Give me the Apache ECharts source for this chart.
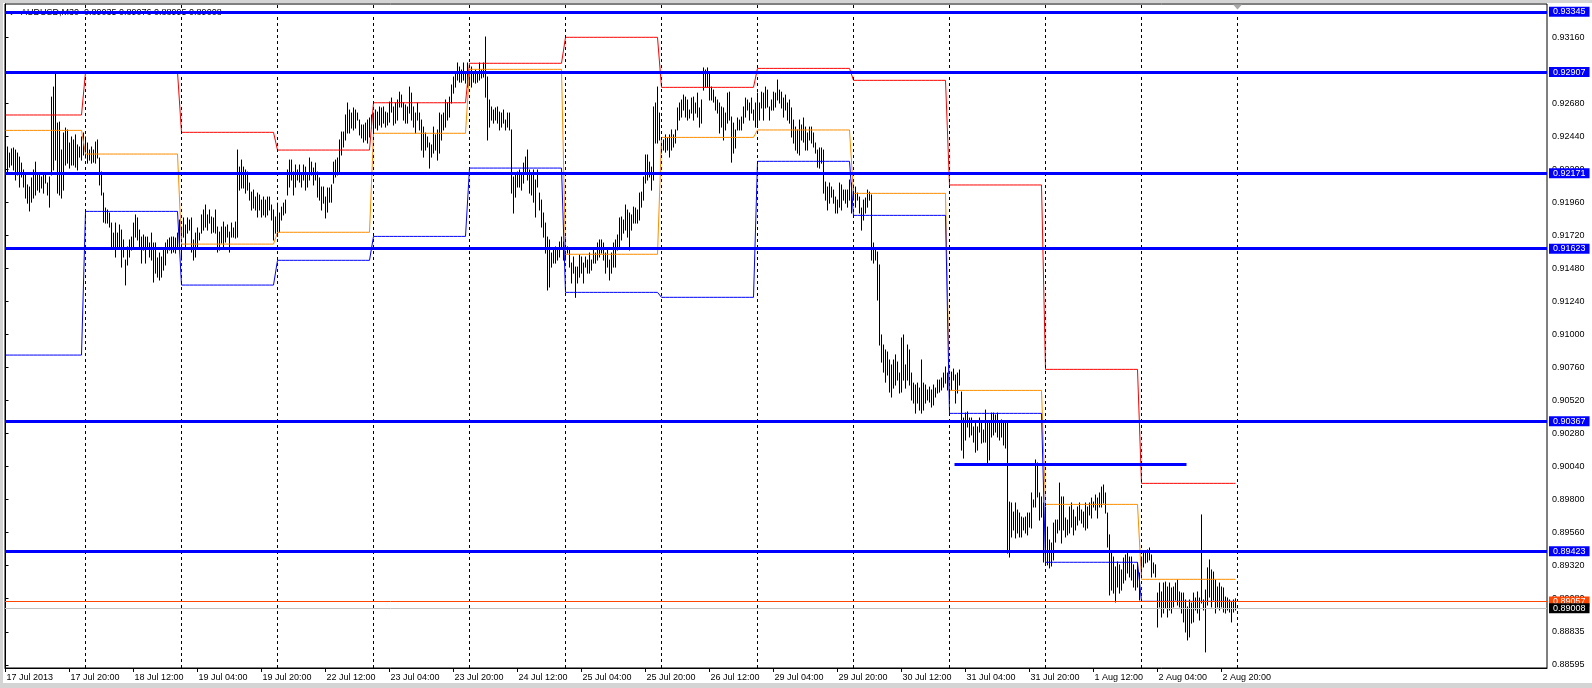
<!DOCTYPE html>
<html><head><meta charset="utf-8">
<script src="https://cdn.jsdelivr.net/npm/echarts@6/dist/echarts.min.js"></script>
<style>
html,body{margin:0;padding:0;background:#d4d4d4;width:1592px;height:688px;overflow:hidden}
#chart{position:absolute;left:3px;top:3px;width:1589px;height:680px;background:#fff}
</style></head><body><div id="chart"></div>
<script>
// ---------- data ----------
const symbolName = 'AUDUSD,M30';
const lastBarOHLC = ['0.89035', '0.89076', '0.88995', '0.89008'];

// M30 bar index of each time label (bar 0 = 17 Jul 04:00)
const timeLabelBars = [0,32,64,96,128,160,192,224,256,288,320,352,384,416,448,480,512,544,576,608];
const timeLabels = ['17 Jul 2013','17 Jul 20:00','18 Jul 12:00','19 Jul 04:00','19 Jul 20:00','22 Jul 12:00',
  '23 Jul 04:00','23 Jul 20:00','24 Jul 12:00','25 Jul 04:00','25 Jul 20:00','26 Jul 12:00','29 Jul 04:00',
  '29 Jul 20:00','30 Jul 12:00','31 Jul 04:00','31 Jul 20:00','1 Aug 12:00','2 Aug 04:00','2 Aug 20:00'];

// trading days (first bar index of each day) and day separators
const dayNames = ['17 Jul','18 Jul','19 Jul','22 Jul','23 Jul','24 Jul','25 Jul','26 Jul','29 Jul','30 Jul','31 Jul','1 Aug','2 Aug'];
const dayFirstBar = [0,40,88,136,184,232,280,328,376,424,472,520,568];
const daySeparatorBars = [40,88,136,184,232,280,328,376,424,472,520,568,616];

// previous-day levels drawn per day (red = high, orange = close, blue = low)
const prevDayHigh  = [0.92595,0.92907,0.92469,0.92340,0.92684,0.92971,0.93160,0.92796,0.92934,0.92847,0.92086,0.90745,0.89916];
const prevDayClose = [0.92483,0.92311,0.91656,0.91742,0.92462,0.92927,0.91582,0.92432,0.92486,0.92025,0.90592,0.89763,0.89218];
const prevDayLow   = [0.90849,0.91894,0.91358,0.91538,0.91712,0.92209,0.91305,0.91269,0.92258,0.91865,0.90425,0.89342,0.89058];

// horizontal levels (thick blue) and a short level line
const levelPrices = [0.93345, 0.92907, 0.92171, 0.91623, 0.90367, 0.89423];
const shortLevel = {price: 0.90056, fromBar: 474.5, toBar: 590.5};
const askPrice = 0.89057;
const bidPrice = 0.89008;

// price-axis tick labels
const priceTicks = [0.93160,0.92680,0.92440,0.92200,0.91960,0.91720,0.91480,0.91240,0.91000,0.90760,0.90520,0.90280,0.90040,0.89800,0.89560,0.89320,0.89080,0.88835,0.88595];

// bar highs / lows in points (1e-5)
const barHigh = [
92413,92362,92318,92348,92355,92340,92318,92289,92245,92195,92173,92086,92071,92137,92195,92252,92159,92159,92144,92159,
92159,92100,92144,92725,92798,92900,92536,92543,92340,92464,92500,92486,92391,92435,92413,92450,92377,92362,92435,92464,
92435,92391,92340,92362,92340,92398,92413,92282,92180,92027,91918,91904,91882,91809,91736,91809,91736,91795,91758,91686,
91540,91635,91686,91707,91809,91868,91846,91758,91707,91722,91707,91707,91664,91736,91664,91664,91555,91591,91562,91613,
91664,91686,91700,91707,91707,91700,91736,91831,
91780,91846,91795,91846,91831,91846,91686,91736,91773,91736,91868,91904,91940,91868,91904,91853,91846,91904,91780,91743,
91780,91816,91780,91795,91743,91809,91773,91816,92340,92216,92267,92216,92195,92180,92100,92034,92049,91998,92027,92013,
91976,91998,91976,91998,91998,91940,91904,91853,
91954,91882,91925,91954,91976,92195,92267,92267,92180,92231,92195,92231,92159,92231,92216,92173,92282,92252,92209,92245,
92180,92137,92071,92071,91998,92064,92064,92086,92252,92267,92282,92413,92471,92471,92595,92682,92631,92609,92646,92631,
92609,92558,92522,92522,92536,92558,92573,92595,
92609,92631,92616,92653,92646,92653,92616,92609,92689,92718,92653,92682,92704,92761,92740,92682,92668,92653,92798,92754,
92653,92609,92682,92609,92558,92507,92464,92435,92391,92377,92507,92450,92486,92609,92595,92609,92704,92682,92725,92813,
92871,92900,92973,92944,92922,92973,92907,92973,
92922,92944,92907,92922,92907,92973,92922,92973,93162,92871,92704,92653,92631,92646,92653,92616,92609,92631,92558,92609,
92609,92486,92144,92173,92180,92195,92173,92245,92289,92340,92195,92173,92195,92122,92195,92027,91976,91882,91809,91707,
91686,91591,91613,91635,91613,91671,91707,91671,
91707,91635,91613,91518,91562,91489,91489,91577,91562,91518,91562,91540,91591,91540,91613,91591,91664,91686,91686,91664,
91591,91613,91540,91591,91664,91686,91722,91846,91853,91831,91940,91904,91882,91868,91925,91918,91904,92027,92034,92144,
92304,92304,92252,92216,92653,92682,92798,92609,
92428,92413,92450,92428,92450,92486,92450,92486,92646,92682,92704,92740,92725,92704,92631,92718,92725,92682,92754,92646,
92704,92937,92922,92937,92900,92798,92776,92725,92704,92682,92653,92646,92609,92754,92761,92580,92536,92486,92573,92558,
92580,92653,92718,92704,92682,92718,92631,92682,
92754,92682,92761,92754,92798,92776,92653,92704,92761,92754,92849,92776,92761,92718,92740,92682,92704,92646,92558,92507,
92486,92558,92522,92573,92507,92464,92507,92507,92464,92391,92340,92355,92355,92340,92107,92071,92100,92071,92049,91998,
91976,92100,92086,92049,92049,92049,92122,92100,
92086,92071,92027,91998,91918,91976,91991,92049,92034,92013,91664,91613,91598,91504,90995,90922,90886,90871,90813,90777,
90813,90850,90798,90718,90973,90995,90777,90922,90886,90718,90645,90631,90645,90609,90813,90645,90631,90595,90616,90595,
90631,90609,90667,90667,90682,90718,90762,90718,
90667,90725,90747,90704,90718,90740,90580,90391,90427,90435,90391,90391,90326,90362,90326,90391,90355,90304,90449,90362,
90355,90427,90427,90413,90427,90355,90377,90362,90362,90355,89780,89773,89707,89773,89722,89700,89671,89664,89671,89700,
89700,89846,89795,90086,90064,89846,89817,89773,
89744,89598,89504,89482,89627,89649,89649,89918,89817,89817,89664,89649,89744,89773,89722,89671,89744,89773,89722,89707,
89773,89744,89773,89809,89780,89831,89809,89846,89889,89904,89846,89700,89541,89409,89380,89308,89344,89323,89286,89373,
89395,89409,89380,89380,89323,89286,89337,89264,
89380,89409,89417,89431,89446,89395,89337,89323,89118,89191,89126,89191,89198,89162,89191,89155,89162,89191,89213,89126,
89118,89118,89068,89017,89068,89046,89118,89082,89126,89082,89686,89068,89140,89301,89359,89286,89271,89213,89162,89191,
89162,89155,89089,89082,89068,89053,89068,89076];
const barLow = [
92245,92180,92216,92231,92195,92122,92159,92071,92144,92071,91991,91954,91897,91961,91991,92013,92049,92034,92064,92027,
92100,92013,91925,92159,92195,92267,92027,92013,91991,92049,92231,92245,92209,92231,92231,92216,92195,92289,92267,92304,
92282,92245,92267,92245,92252,92245,92282,92086,92013,91816,91809,91809,91780,91628,91635,91562,91635,91628,91489,91562,
91359,91504,91562,91613,91628,91707,91686,91635,91518,91613,91518,91635,91562,91540,91380,91445,91416,91395,91416,91467,
91504,91591,91613,91591,91598,91591,91628,91635,
91540,91707,91635,91736,91758,91598,91540,91562,91628,91686,91736,91758,91780,91758,91809,91736,91743,91736,91598,91613,
91664,91635,91671,91707,91598,91707,91707,91700,91707,92049,92064,92064,92027,92049,91976,91904,91918,91904,91853,91904,
91853,91868,91853,91868,91904,91831,91686,91736,
91712,91743,91831,91868,91882,92013,92071,92122,92013,92071,92122,92107,92071,92122,92049,92071,92122,92159,92086,92122,
91998,91976,91904,91954,91846,91889,91961,91961,92100,92144,92159,92180,92304,92362,92413,92464,92464,92500,92486,92500,
92558,92450,92428,92398,92413,92391,92435,92500,
92464,92500,92486,92522,92507,92536,92507,92522,92543,92616,92522,92536,92558,92653,92653,92558,92536,92536,92609,92558,
92507,92464,92558,92486,92340,92289,92340,92362,92209,92289,92318,92340,92267,92318,92413,92486,92507,92558,92580,92682,
92754,92798,92849,92834,92834,92849,92827,92798,
92813,92798,92834,92827,92834,92849,92864,92871,92725,92413,92507,92558,92536,92558,92536,92486,92507,92536,92486,92507,
92486,92027,91882,91998,92071,92071,92049,92100,92173,92122,92027,92013,91961,91853,92071,91904,91780,91707,91591,91322,
91344,91489,91518,91518,91540,91562,91635,91540,
91540,91591,91489,91373,91445,91269,91373,91416,91445,91373,91489,91445,91445,91467,91518,91518,91540,91562,91591,91540,
91445,91489,91395,91445,91489,91489,91613,91635,91686,91736,91758,91707,91613,91758,91809,91809,91809,91831,91925,91976,
92100,92122,92144,92049,92122,92391,92391,92413,
92318,92340,92325,92340,92289,92340,92362,92391,92486,92558,92580,92631,92580,92558,92573,92609,92558,92609,92580,92507,
92536,92776,92798,92798,92704,92704,92689,92631,92609,92464,92507,92413,92486,92536,92558,92252,92318,92355,92486,92486,
92486,92536,92580,92631,92558,92609,92558,92507,
92507,92558,92646,92558,92646,92653,92558,92631,92631,92653,92704,92682,92646,92580,92631,92558,92536,92435,92391,92340,
92318,92304,92413,92398,92340,92340,92413,92391,92362,92318,92216,92209,92245,92027,91976,91904,91954,91998,91954,91882,
91882,91925,91904,91976,91954,91925,91976,91882,
91976,91925,91976,91882,91758,91831,91882,91925,91976,91540,91518,91540,91249,90922,90798,90725,90652,90704,90580,90544,
90609,90631,90667,90573,90580,90667,90609,90667,90631,90522,90500,90427,90500,90449,90427,90449,90500,90522,90507,90471,
90486,90544,90573,90580,90595,90616,90645,90595,
90522,90595,90667,90500,90573,90631,90158,90100,90231,90326,90253,90268,90216,90143,90158,90289,90209,90216,90216,90064,
90086,90253,90268,90289,90253,90231,90253,90195,90173,89409,89380,89526,89577,89519,89555,89526,89526,89577,89555,89541,
89598,89591,89744,89744,89817,89649,89671,89344,
89337,89323,89301,89315,89359,89489,89555,89577,89482,89577,89526,89541,89555,89598,89541,89577,89613,89649,89627,89598,
89577,89591,89686,89664,89744,89722,89664,89744,89744,89773,89700,89453,89104,89140,89118,89053,89162,89118,89140,89191,
89213,89264,89235,89213,89162,89140,89162,89068,
89235,89308,89337,89344,89359,89235,89264,89235,88871,89017,88944,88973,89010,88944,88995,88973,89017,89068,89031,89017,
88973,88908,88835,88777,88799,88900,88908,88995,88973,88922,89046,88995,88690,89031,89089,89017,89068,88973,89017,88995,
89017,88980,88973,88995,88980,88908,88980,88995];

// ---------- build ----------
const FONT = 'Liberation Sans';
const N = barHigh.length;
const bars = barHigh.map((h, i) => [i, barLow[i] / 1e5, h / 1e5]);
function dayOf(i) { let d = 0; while (d + 1 < dayFirstBar.length && i >= dayFirstBar[d + 1]) d++; return d; }
function perBar(vals) { const out = []; for (let i = 0; i < N; i++) out.push([i, vals[dayOf(i)]]); return out; }

const boxLabel = (bg) => ({
  show: true, position: 'end', distance: 2, color: '#fff', backgroundColor: bg,
  fontSize: 9, fontFamily: FONT, lineHeight: 9, padding: [1, 4, 0, 4]
});

const levelLines = levelPrices.map(p => ({
  yAxis: p, lineStyle: {color: '#0000ff', width: 3, type: 'solid'},
  label: Object.assign(boxLabel('#0000ff'), {formatter: p.toFixed(5)})
}));

const chart = echarts.init(document.getElementById('chart'), null, {renderer: 'canvas'});
chart.setOption({
  animation: false,
  backgroundColor: '#ffffff',
  title: {
    text: symbolName + '  ' + lastBarOHLC.join(' '),
    left: 18, top: 5, padding: 0, z: 0,
    textStyle: {fontSize: 9, fontFamily: FONT, fontWeight: 'normal', color: '#000', lineHeight: 9}
  },
  graphic: [{type: 'polygon', z: 0, shape: {points: [[5, 8.7], [12, 8.7], [8.5, 12]]}, style: {fill: '#000'}}],
  grid: {left: 2, right: 45, top: 1, bottom: 15, show: true, borderColor: '#000', borderWidth: 1, backgroundColor: '#fff'},
  xAxis: {
    type: 'value', min: -0.25, max: 770.75,
    axisLine: {show: true, onZero: false, lineStyle: {color: '#000', width: 1}},
    axisTick: {show: true, customValues: timeLabelBars, length: 4, lineStyle: {color: '#000'}},
    axisLabel: {
      customValues: timeLabelBars, align: 'left', margin: 5, padding: [0, 0, 0, 1],
      fontSize: 9, fontFamily: FONT, color: '#000',
      formatter: v => { const k = timeLabelBars.indexOf(Math.round(v)); return k >= 0 ? timeLabels[k] : ''; }
    },
    splitLine: {show: false}
  },
  yAxis: {
    type: 'value', position: 'right', min: 0.885731, max: 0.934022, scale: true,
    axisLine: {show: true, lineStyle: {color: '#000', width: 1}},
    axisTick: {show: true, customValues: priceTicks, length: 3, lineStyle: {color: '#000'}},
    axisLabel: {
      customValues: priceTicks, margin: 5, fontSize: 9, fontFamily: FONT, color: '#000',
      formatter: v => v.toFixed(5)
    },
    splitLine: {show: false}
  },
  series: [
    {
      name: 'separators', type: 'line', data: [], z: 1, silent: true,
      markLine: {
        silent: true, symbol: ['none', 'none'], animation: false, label: {show: false}, precision: 5,
        lineStyle: {color: '#000', width: 1, type: [3, 3]},
        data: daySeparatorBars.map(b => ({xAxis: b}))
      },
      markPoint: {
        silent: true, animation: false, label: {show: false},
        data: [{coord: [daySeparatorBars[daySeparatorBars.length - 1], 0.93380], symbol: 'triangle', symbolRotate: 180, symbolSize: [9, 5], itemStyle: {color: '#a8a8a8'}}]
      }
    },
    {
      name: symbolName, type: 'custom', z: 2, silent: true, data: bars,
      encode: {x: 0, y: [1, 2]},
      renderItem: (params, api) => {
        const i = api.value(0);
        const a = api.coord([i, api.value(1)]);
        const b = api.coord([i, api.value(2)]);
        return {type: 'line', shape: {x1: a[0], y1: a[1] + 0.5, x2: b[0], y2: b[1] - 0.5}, style: {stroke: '#000', lineWidth: 1}};
      }
    },
    {name: 'prevHigh', type: 'line', z: 3, silent: true, symbol: 'none', data: perBar(prevDayHigh), lineStyle: {color: '#ff0000', width: 1}},
    {name: 'prevClose', type: 'line', z: 3, silent: true, symbol: 'none', data: perBar(prevDayClose), lineStyle: {color: '#ff8c00', width: 1}},
    {name: 'prevLow', type: 'line', z: 3, silent: true, symbol: 'none', data: perBar(prevDayLow), lineStyle: {color: '#0000ff', width: 1}},
    {
      name: 'levels', type: 'line', data: [], z: 4, silent: true,
      markLine: {
        silent: true, symbol: ['none', 'none'], animation: false, precision: 5,
        data: levelLines.concat([
          [{coord: [shortLevel.fromBar, shortLevel.price], lineStyle: {color: '#0000ff', width: 3, type: 'solid'}, label: {show: false}},
           {coord: [shortLevel.toBar, shortLevel.price]}],
          {yAxis: askPrice, lineStyle: {color: '#ff4500', width: 1, type: 'solid'}, label: Object.assign(boxLabel('#ff4500'), {formatter: askPrice.toFixed(5)})},
          {yAxis: bidPrice, lineStyle: {color: '#c0c0c0', width: 1, type: 'solid'}, label: Object.assign(boxLabel('#000000'), {formatter: bidPrice.toFixed(5)})}
        ])
      }
    }
  ]
});
</script></body></html>
